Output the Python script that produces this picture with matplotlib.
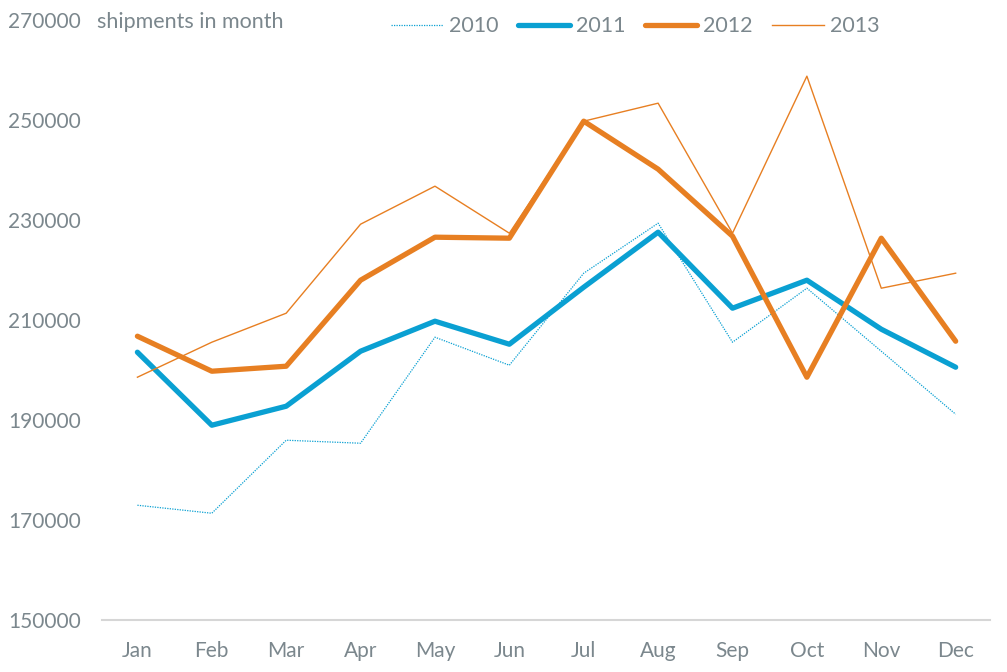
import matplotlib.pyplot as plt

plt.rcParams['font.family'] = ['Lato', 'DejaVu Sans']

months = ['Jan', 'Feb', 'Mar', 'Apr', 'May', 'Jun',
          'Jul', 'Aug', 'Sep', 'Oct', 'Nov', 'Dec']
s2010 = [173000, 171400, 186000, 185400, 206600, 201000,
         219400, 229400, 205600, 216400, 203800, 191200]
s2011 = [203600, 189000, 192800, 203800, 209800, 205200,
         216600, 227600, 212400, 218000, 208200, 200600]
s2012 = [206800, 199800, 200800, 218000, 226600, 226400,
         249800, 240200, 226800, 198600, 226400, 205800]
s2013 = [198600, 205600, 211400, 229200, 236800, 227400,
         249800, 253400, 227400, 258800, 216400, 219400]
yticks = [150000, 170000, 190000, 210000, 230000, 250000, 270000]

blue = '#0aa0d2'
orange = '#e77f22'
grey = '#7b878d'

fig = plt.figure(figsize=(10.07, 6.72), dpi=100)
ax = fig.add_axes([0.101, 0.077, 0.882, 0.893])

x = range(len(months))
ax.plot(x, s2010, color=blue, lw=0.9, ls=(0, (1, 1)), label='2010')
ax.plot(x, s2011, color=blue, lw=3.8, solid_capstyle='round', solid_joinstyle='round', label='2011')
ax.plot(x, s2012, color=orange, lw=3.8, solid_capstyle='round', solid_joinstyle='round', label='2012')
ax.plot(x, s2013, color=orange, lw=1.0, label='2013')

ax.set_xlim(-0.48, 11.46)
ax.set_ylim(150000, 270000)
ax.set_xticks(list(x))
ax.set_xticklabels(months)
ax.set_yticks(yticks)
ax.set_yticklabels([str(v) for v in yticks])

for side in ['top', 'right', 'left']:
    ax.spines[side].set_visible(False)
ax.spines['bottom'].set_color('#d6d6d6')
ax.spines['bottom'].set_linewidth(1.5)
ax.tick_params(axis='both', length=0, labelsize=15, colors=grey)
ax.tick_params(axis='x', pad=15)
ax.tick_params(axis='y', pad=15)

fig.text(0.096, 0.967, 'shipments in month', fontsize=15.5, color=grey,
         va='center', ha='left')

leg = ax.legend(loc='center', bbox_to_anchor=(0.601, 0.99), ncol=4, frameon=False,
                fontsize=15.5, handlelength=2.4, handletextpad=0.3,
                columnspacing=0.9)
for t in leg.get_texts():
    t.set_color(grey)

fig.savefig('out.png', dpi=100)
